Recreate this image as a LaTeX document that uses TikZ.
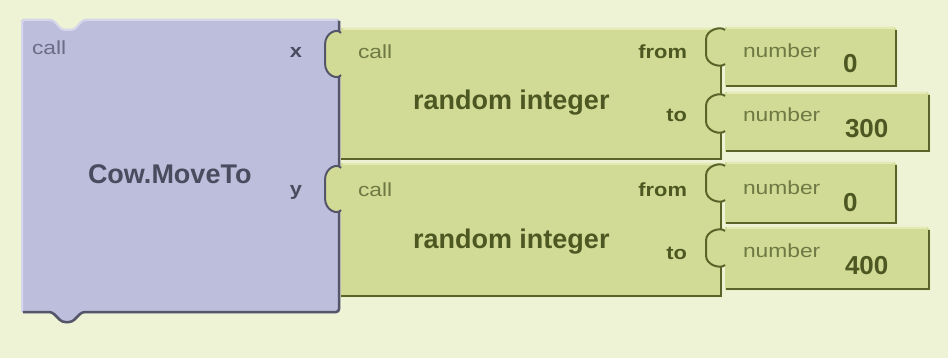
\documentclass[tikz,border=0pt]{standalone}
\usepackage{graphicx}
\usepackage{fontspec}
\setmainfont{Liberation Sans}
\definecolor{bg}{HTML}{EEF3D5}
\definecolor{pfill}{HTML}{BDBEDC}
\definecolor{phl}{HTML}{D6D6EC}
\definecolor{pshadow}{HTML}{55556A}
\definecolor{ptext}{HTML}{4B4B5F}
\definecolor{plight}{HTML}{6C6C84}
\definecolor{gfill}{HTML}{D2DB95}
\definecolor{ghl}{HTML}{E3EAB6}
\definecolor{gshadow}{HTML}{5A6328}
\definecolor{gtext}{HTML}{4D5722}
\definecolor{glight}{HTML}{6E7944}
\newcommand\smallreg[1]{{\fontsize{19}{22}\selectfont\scalebox{1.2}[1]{#1}}}
\newcommand\smallbold[1]{{\fontsize{19}{22}\selectfont\bfseries\scalebox{1.15}[1]{#1}}}
\newcommand\bigbold{\fontsize{27}{30}\selectfont\bfseries}
\newcommand\numbold{\fontsize{26}{30}\selectfont\bfseries}
\tikzset{
  tabseg/.style n args={4}{insert path={
    .. controls ({#1-0.2*#4},{#3+0.12*(#3-#2)}) and ({#1-#4},{#3+0.02*(#3-#2)}) .. ({#1-#4},{#3-0.28*(#3-#2)})
    -- ({#1-#4},{#2+0.28*(#3-#2)})
    .. controls ({#1-#4},{#2-0.02*(#3-#2)}) and ({#1-0.2*#4},{#2-0.12*(#3-#2)}) .. (#1,#2)}},
  lbl/.style={inner sep=0pt, outer sep=0pt},
  hlline/.style={line width=2},
  shline/.style={line width=2.5},
  tabline/.style={line width=2},
}
\begin{document}
\begin{tikzpicture}[x=1pt,y=-1pt]
\useasboundingbox (0,0) rectangle (948,358);
\fill[bg] (0,0) rectangle (948,358);

% ---- purple block
\path[fill=pfill, rounded corners=3] (21,19) -- (53,19) -- (62,29) -- (74,29) -- (83,19) -- (340,19) -- (340,313) -- (82,313) -- (72,323) -- (62,323) -- (52,313) -- (21,313) -- cycle;
\draw[phl, hlline, rounded corners=3] (22,311) -- (22,20) -- (53,20) -- (62,30) -- (74,30) -- (83,20) -- (337,20);
\draw[pshadow, shline, rounded corners=3] (339,21) -- (339,312) -- (82,312) -- (72,322) -- (62,322) -- (52,312) -- (23,312);

% ---- green block A
\path[fill=gfill] (341,28) -- (719,28) -- (722,31) -- (722,160) -- (341,160) -- (341,75) [tabseg={341}{33}{75}{16}] -- cycle;
\draw[ghl, hlline] (343,29) -- (719,29);
\draw[gshadow, shline] (721,31) -- (721,159) -- (341,159);
\draw[pshadow, tabline] (341,75) [tabseg={341}{33}{75}{16}];

% ---- green block B
\path[fill=gfill] (341,163) -- (719,163) -- (722,166) -- (722,297) -- (341,297) -- (341,210) [tabseg={341}{168}{210}{16}] -- cycle;
\draw[ghl, hlline] (343,164) -- (719,164);
\draw[gshadow, shline] (721,166) -- (721,296) -- (341,296);
\draw[pshadow, tabline] (341,210) [tabseg={341}{168}{210}{16}];

% ---- number blocks
\path[fill=gfill] (725,27) -- (894,27) -- (897,30) -- (897,87) -- (725,87) -- (725,64) [tabseg={725}{30}{64}{19}] -- cycle;
\draw[ghl, hlline] (727,28) -- (894,28);
\draw[gshadow, shline] (896,30) -- (896,86) -- (726,86);
\draw[gshadow, tabline] (725,64) [tabseg={725}{30}{64}{19}];

\path[fill=gfill] (725,92) -- (927,92) -- (930,95) -- (930,152) -- (725,152) -- (725,131) [tabseg={725}{96}{131}{19}] -- cycle;
\draw[ghl, hlline] (727,93) -- (927,93);
\draw[gshadow, shline] (929,95) -- (929,151) -- (726,151);
\draw[gshadow, tabline] (725,131) [tabseg={725}{96}{131}{19}];

\path[fill=gfill] (725,162) -- (894,162) -- (897,165) -- (897,224) -- (725,224) -- (725,200) [tabseg={725}{166}{200}{19}] -- cycle;
\draw[ghl, hlline] (727,163) -- (894,163);
\draw[gshadow, shline] (896,165) -- (896,223) -- (726,223);
\draw[gshadow, tabline] (725,200) [tabseg={725}{166}{200}{19}];

\path[fill=gfill] (725,227) -- (927,227) -- (930,230) -- (930,290) -- (725,290) -- (725,265) [tabseg={725}{231}{265}{19}] -- cycle;
\draw[ghl, hlline] (727,228) -- (927,228);
\draw[gshadow, shline] (929,230) -- (929,289) -- (726,289);
\draw[gshadow, tabline] (725,265) [tabseg={725}{231}{265}{19}];

% ---- texts: purple
\node[lbl, anchor=base west, text=plight] (pcall) at (32,55) {\smallreg{call}};
\node[lbl, anchor=base, text=ptext] (px) at (296,58) {\smallbold{x}};
\node[lbl, anchor=base, text=ptext] (py) at (296,196) {\smallbold{y}};
\node[lbl, anchor=base west, text=ptext] (ptitle) at (88,184) {\bigbold Cow.MoveTo};

% ---- texts: green A
\node[lbl, anchor=base west, text=glight] (acall) at (358,59) {\smallreg{call}};
\node[lbl, anchor=base west, text=gtext] (atitle) at (413,110) {\bigbold random integer};
\node[lbl, anchor=base east, text=gtext] (afrom) at (687,59) {\smallbold{from}};
\node[lbl, anchor=base east, text=gtext] (ato) at (687,122) {\smallbold{to}};

% ---- texts: green B
\node[lbl, anchor=base west, text=glight] (bcall) at (358,197) {\smallreg{call}};
\node[lbl, anchor=base west, text=gtext] (btitle) at (413,248) {\bigbold random integer};
\node[lbl, anchor=base east, text=gtext] (bfrom) at (687,197) {\smallbold{from}};
\node[lbl, anchor=base east, text=gtext] (bto) at (687,260) {\smallbold{to}};

% ---- texts: numbers
\node[lbl, anchor=base west, text=glight] (n1l) at (743,58) {\smallreg{number}};
\node[lbl, anchor=base west, text=gtext] (n1v) at (843,73) {\numbold 0};
\node[lbl, anchor=base west, text=glight] (n2l) at (743,122) {\smallreg{number}};
\node[lbl, anchor=base west, text=gtext] (n2v) at (845,138) {\numbold 300};
\node[lbl, anchor=base west, text=glight] (n3l) at (743,195) {\smallreg{number}};
\node[lbl, anchor=base west, text=gtext] (n3v) at (843,212) {\numbold 0};
\node[lbl, anchor=base west, text=glight] (n4l) at (743,258) {\smallreg{number}};
\node[lbl, anchor=base west, text=gtext] (n4v) at (845,275) {\numbold 400};
\end{tikzpicture}
\end{document}
